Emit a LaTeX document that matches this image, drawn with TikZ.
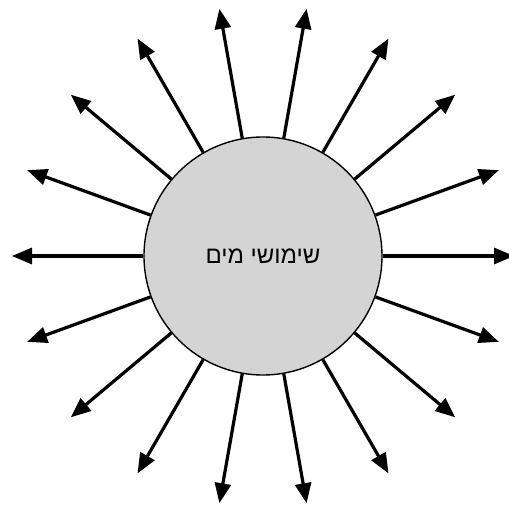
\documentclass[tikz,border=0pt]{standalone}
\usepackage{fontspec}
\usetikzlibrary{arrows.meta,calc}
\newfontfamily\hebfont[Script=Hebrew]{Liberation Sans}
\TeXXeTstate=1
\definecolor{discgray}{RGB}{212,212,212}
\begin{document}
\begin{tikzpicture}[x=1pt,y=1pt,
  hub/.style={circle,draw=black,line width=1.4pt,fill=discgray,minimum size=238pt,inner sep=0pt,font=\hebfont\fontsize{24}{28}\selectfont},
  ray/.style={line width=3.2pt,-{Triangle[length=20pt,width=16pt]}}]
\useasboundingbox (0,0) rectangle (509,507);
\node[hub] (c) at (263,251) {\beginR שימושי מים\endR};
\foreach \a [count=\i] in {0,20,...,340}{
  \coordinate (t\i) at ($(c)+(\a:251)$);
  \draw[ray] (c.\a) -- (t\i);
}
\end{tikzpicture}
\end{document}
